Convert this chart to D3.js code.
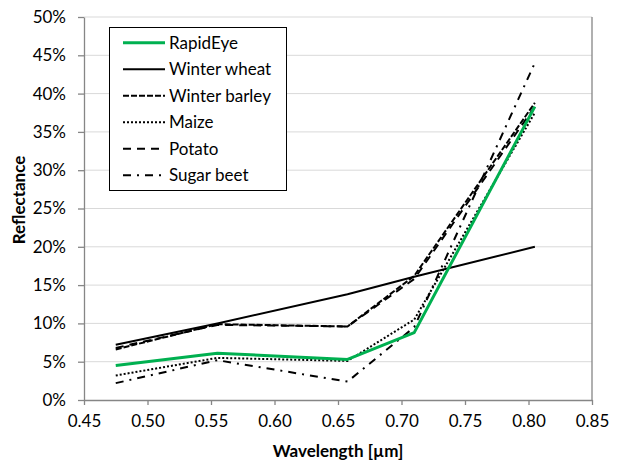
<!DOCTYPE html>
<html><head><meta charset="utf-8">
<script src="https://cdn.jsdelivr.net/npm/d3@7"></script>
<style>body{margin:0;background:#fff}svg{display:block}text{font-family:Lato,"Open Sans",sans-serif}</style>
</head><body><svg id="c" width="620" height="461"></svg>
<script>
const wavelengths = [0.475, 0.555, 0.6575, 0.71, 0.805];
const rapidEye     = [4.5, 6.1, 5.3, 8.8, 38.3];
const winterWheat  = [7.2, 10.0, 13.8, 16.1, 20.0];
const winterBarley = [6.6, 9.9, 9.6, 16.2, 38.8];
const maize        = [3.2, 5.5, 5.1, 10.5, 37.5];
const potato       = [6.8, 9.8, 9.6, 15.8, 38.3];
const sugarBeet    = [2.2, 5.2, 2.4, 9.5, 44.0];
const seriesNames  = ["RapidEye","Winter wheat","Winter barley","Maize","Potato","Sugar beet"];
const xTicks = [0.45,0.50,0.55,0.60,0.65,0.70,0.75,0.80,0.85];
const yTicks = [0,5,10,15,20,25,30,35,40,45,50];

const seriesValues = [rapidEye, winterWheat, winterBarley, maize, potato, sugarBeet];
const styles = [
  {color:"#00b050", w:3, dash:null},
  {color:"#000", w:2, dash:null},
  {color:"#000", w:2, dash:"6,2"},
  {color:"#000", w:2, dash:"2,2"},
  {color:"#000", w:2, dash:"8,6"},
  {color:"#000", w:2, dash:"8,6,2,6"}
];

const svg = d3.select("#c");
const L=84, R=592, T=17, B=400;
const x = d3.scaleLinear().domain([0.45,0.85]).range([L,R]);
const y = d3.scaleLinear().domain([0,50]).range([B,T]);

// gridlines
svg.append("g").selectAll("line").data(yTicks.filter(d=>d>0)).join("line")
  .attr("x1",L).attr("x2",R).attr("y1",d=>y(d)).attr("y2",d=>y(d))
  .attr("stroke","#d9d9d9").attr("stroke-width",1);
// right border of plot
svg.append("line").attr("x1",R).attr("x2",R).attr("y1",T).attr("y2",B)
  .attr("stroke","#868686").attr("stroke-width",1.3);

// axes
const xAxis = svg.append("g").attr("transform",`translate(0,${B})`)
  .call(d3.axisBottom(x).tickValues(xTicks).tickFormat(d3.format(".2f")).tickSizeOuter(0).tickSizeInner(5).tickPadding(10));
const yAxis = svg.append("g").attr("transform",`translate(${L},0)`)
  .call(d3.axisLeft(y).tickValues(yTicks).tickFormat(d=>d+"%").tickSizeOuter(0).tickSizeInner(6).tickPadding(12));
[xAxis,yAxis].forEach(g=>{
  g.selectAll("path,line").attr("stroke","#868686").attr("stroke-width",1.3);
  g.selectAll("text").attr("font-size",17).attr("fill","#000").attr("font-family","Lato");
});

// lines
const line = d3.line().x((d,i)=>x(wavelengths[i])).y(d=>y(d));
const order = [1,2,3,4,5,0];
order.forEach(k=>{
  svg.append("path").datum(seriesValues[k]).attr("d",line)
    .attr("fill","none").attr("stroke",styles[k].color).attr("stroke-width",styles[k].w)
    .attr("stroke-dasharray",styles[k].dash).attr("stroke-linejoin","round");
});

// legend
const lg = svg.append("g");
lg.append("rect").attr("x",109.5).attr("y",27.5).attr("width",177).attr("height",163)
  .attr("fill","#fff").attr("stroke","#000").attr("stroke-width",1);
seriesNames.forEach((n,i)=>{
  const yy = 42.7 + i*26.5;
  lg.append("line").attr("x1",123).attr("x2",165).attr("y1",yy).attr("y2",yy)
    .attr("stroke",styles[i].color).attr("stroke-width",styles[i].w).attr("stroke-dasharray",styles[i].dash);
  lg.append("text").attr("x",169).attr("y",yy).attr("dy","0.35em").attr("font-size",17).text(n);
});

// titles
svg.append("text").attr("x",(L+R)/2).attr("y",457).attr("text-anchor","middle")
  .attr("font-size",17).attr("font-weight","bold").text("Wavelength [µm]");
svg.append("text").attr("transform",`translate(25,200) rotate(-90)`).attr("text-anchor","middle")
  .attr("font-size",17).attr("font-weight","bold").text("Reflectance");
</script></body></html>
